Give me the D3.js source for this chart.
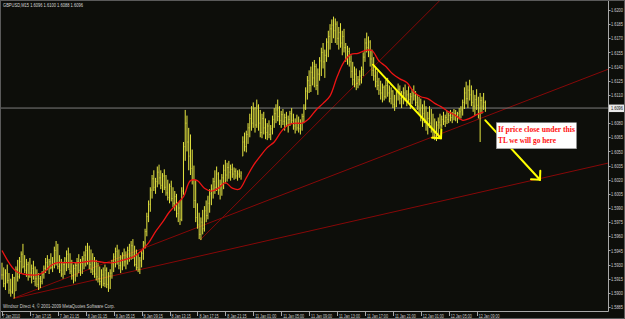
<!DOCTYPE html>
<html><head><meta charset="utf-8">
<script src="https://cdn.jsdelivr.net/npm/d3@7"></script>
<style>html,body{margin:0;padding:0;background:#0d0e0a;overflow:hidden}</style>
</head><body>
<script>
// ---------------- data ----------------
const symbolTitle = "GBPUSD,M15  1.6096 1.6100 1.6088 1.6096";
const copyrightText = "Windsor Direct 4, \u00A9 2001-2009 MetaQuotes Software Corp.";

const barHigh = [
1.5932,1.5927,1.5925,1.5930,1.5921,1.5915,1.5920,1.5917,1.5928,1.5935,
1.5938,1.5944,1.5952,1.5940,1.5936,1.5933,1.5937,1.5930,1.5934,1.5928,
1.5925,1.5921,1.5918,1.5923,1.5929,1.5937,1.5940,1.5936,1.5942,1.5938,
1.5949,1.5955,1.5952,1.5940,1.5936,1.5933,1.5938,1.5945,1.5948,1.5942,
1.5935,1.5930,1.5932,1.5937,1.5941,1.5936,1.5939,1.5944,1.5950,1.5953,
1.5950,1.5946,1.5942,1.5938,1.5935,1.5932,1.5928,1.5925,1.5927,1.5930,
1.5927,1.5922,1.5925,1.5935,1.5942,1.5948,1.5951,1.5946,1.5940,1.5943,
1.5947,1.5944,1.5949,1.5952,1.5955,1.5957,1.5950,1.5946,1.5941,1.5938,
1.5945,1.5955,1.5968,1.5985,1.5998,1.6012,1.6025,1.6030,1.6022,1.6034,
1.6036,1.6030,1.6027,1.6031,1.6025,1.6020,1.6016,1.6019,1.6012,1.6008,
1.6005,1.5996,1.5998,1.6012,1.6060,1.6094,1.6088,1.6075,1.6068,1.6052,
1.6035,1.6020,1.5995,1.5985,1.5980,1.5988,1.5992,1.5998,1.6003,1.6010,
1.6015,1.6022,1.6030,1.6034,1.6028,1.6020,1.6026,1.6036,1.6041,1.6038,
1.6040,1.6036,1.6037,1.6033,1.6032,1.6030,1.6031,1.6029,1.6066,1.6070,
1.6072,1.6080,1.6090,1.6098,1.6102,1.6097,1.6105,1.6100,1.6094,1.6090,
1.6092,1.6085,1.6080,1.6083,1.6078,1.6088,1.6096,1.6100,1.6105,1.6098,
1.6093,1.6095,1.6090,1.6092,1.6088,1.6093,1.6096,1.6090,1.6085,1.6089,
1.6087,1.6084,1.6090,1.6100,1.6118,1.6130,1.6136,1.6140,1.6145,1.6147,
1.6143,1.6138,1.6150,1.6160,1.6165,1.6158,1.6170,1.6178,1.6185,1.6190,
1.6193,1.6191,1.6188,1.6182,1.6186,1.6178,1.6180,1.6165,1.6162,1.6160,
1.6152,1.6145,1.6140,1.6138,1.6130,1.6136,1.6140,1.6155,1.6170,1.6176,
1.6172,1.6168,1.6158,1.6150,1.6140,1.6135,1.6128,1.6125,1.6122,1.6120,
1.6126,1.6128,1.6120,1.6118,1.6115,1.6110,1.6116,1.6122,1.6120,1.6114,
1.6118,1.6121,1.6115,1.6119,1.6112,1.6116,1.6120,1.6114,1.6110,1.6108,
1.6106,1.6100,1.6104,1.6098,1.6092,1.6098,1.6095,1.6090,1.6085,1.6082,
1.6086,1.6090,1.6088,1.6092,1.6089,1.6093,1.6091,1.6094,1.6092,1.6095,
1.6094,1.6092,1.6096,1.6098,1.6105,1.6118,1.6124,1.6120,1.6126,1.6120,
1.6115,1.6110,1.6116,1.6108,1.6112,1.6108,1.6112,1.6104];

const barLow = [
1.5914,1.5906,1.5903,1.5910,1.5899,1.5896,1.5899,1.5894,1.5902,1.5912,
1.5915,1.5920,1.5926,1.5921,1.5917,1.5913,1.5916,1.5910,1.5914,1.5907,
1.5906,1.5903,1.5905,1.5909,1.5915,1.5921,1.5924,1.5920,1.5925,1.5922,
1.5926,1.5929,1.5925,1.5921,1.5917,1.5915,1.5919,1.5923,1.5926,1.5920,
1.5914,1.5910,1.5912,1.5917,1.5921,1.5918,1.5920,1.5925,1.5928,1.5930,
1.5925,1.5921,1.5919,1.5916,1.5913,1.5911,1.5908,1.5905,1.5907,1.5906,
1.5905,1.5901,1.5904,1.5915,1.5922,1.5927,1.5930,1.5925,1.5921,1.5924,
1.5928,1.5925,1.5930,1.5933,1.5935,1.5936,1.5928,1.5924,1.5922,1.5920,
1.5927,1.5935,1.5947,1.5960,1.5975,1.5986,1.6000,1.6008,1.6005,1.6012,
1.6015,1.6010,1.6006,1.6009,1.6003,1.5998,1.5995,1.5997,1.5991,1.5987,
1.5980,1.5975,1.5972,1.5976,1.6004,1.6040,1.6050,1.6030,1.6025,1.6015,
1.5990,1.5975,1.5968,1.5957,1.5956,1.5962,1.5965,1.5975,1.5978,1.5985,
1.5993,1.6000,1.6005,1.6008,1.6004,1.5999,1.6003,1.6010,1.6016,1.6018,
1.6021,1.6019,1.6022,1.6020,1.6021,1.6019,1.6022,1.6020,1.6045,1.6050,
1.6049,1.6058,1.6065,1.6072,1.6075,1.6070,1.6075,1.6072,1.6065,1.6064,
1.6068,1.6063,1.6062,1.6064,1.6062,1.6068,1.6075,1.6080,1.6082,1.6078,
1.6075,1.6078,1.6072,1.6076,1.6070,1.6077,1.6079,1.6073,1.6069,1.6072,
1.6070,1.6068,1.6072,1.6080,1.6094,1.6105,1.6112,1.6113,1.6120,1.6118,
1.6115,1.6110,1.6125,1.6130,1.6138,1.6128,1.6145,1.6150,1.6158,1.6165,
1.6170,1.6165,1.6163,1.6158,1.6160,1.6152,1.6155,1.6145,1.6142,1.6140,
1.6128,1.6120,1.6118,1.6115,1.6117,1.6120,1.6122,1.6130,1.6145,1.6155,
1.6150,1.6140,1.6130,1.6125,1.6118,1.6115,1.6110,1.6105,1.6102,1.6104,
1.6106,1.6108,1.6102,1.6100,1.6096,1.6093,1.6097,1.6104,1.6100,1.6096,
1.6100,1.6103,1.6098,1.6102,1.6095,1.6100,1.6104,1.6098,1.6094,1.6090,
1.6082,1.6076,1.6080,1.6072,1.6068,1.6075,1.6070,1.6065,1.6062,1.6061,
1.6064,1.6074,1.6075,1.6078,1.6076,1.6079,1.6080,1.6082,1.6080,1.6083,
1.6082,1.6080,1.6084,1.6085,1.6088,1.6095,1.6100,1.6096,1.6104,1.6098,
1.6092,1.6088,1.6094,1.6085,1.6060,1.6090,1.6094,1.6092];

const barClose = [
1.5919,1.5910,1.5921,1.5913,1.5903,1.5901,1.5916,1.5899,1.5925,1.5917,
1.5933,1.5941,1.5928,1.5924,1.5930,1.5918,1.5921,1.5926,1.5912,1.5915,
1.5909,1.5915,1.5912,1.5920,1.5926,1.5932,1.5928,1.5933,1.5927,1.5930,
1.5945,1.5931,1.5928,1.5924,1.5920,1.5930,1.5936,1.5941,1.5925,1.5923,
1.5918,1.5926,1.5929,1.5933,1.5924,1.5931,1.5936,1.5940,1.5945,1.5934,
1.5930,1.5925,1.5923,1.5920,1.5917,1.5915,1.5912,1.5919,1.5910,1.5924,
1.5909,1.5918,1.5921,1.5931,1.5938,1.5944,1.5933,1.5929,1.5937,1.5940,
1.5933,1.5939,1.5945,1.5940,1.5950,1.5940,1.5930,1.5927,1.5925,1.5934,
1.5942,1.5953,1.5965,1.5981,1.5994,1.6009,1.6021,1.6012,1.6018,1.6028,
1.6022,1.6014,1.6024,1.6012,1.6006,1.6001,1.6013,1.6000,1.5995,1.6002,
1.5984,1.5990,1.5978,1.6008,1.6055,1.6080,1.6060,1.6045,1.6032,1.6020,
1.5998,1.5980,1.5972,1.5962,1.5975,1.5968,1.5987,1.5982,1.5995,1.6005,
1.6010,1.6018,1.6012,1.6026,1.6009,1.6015,1.6022,1.6030,1.6025,1.6033,
1.6028,1.6031,1.6026,1.6029,1.6024,1.6026,1.6024,1.6027,1.6060,1.6055,
1.6068,1.6075,1.6085,1.6080,1.6095,1.6078,1.6098,1.6080,1.6070,1.6085,
1.6075,1.6070,1.6077,1.6068,1.6074,1.6084,1.6090,1.6094,1.6087,1.6083,
1.6089,1.6082,1.6086,1.6080,1.6084,1.6090,1.6083,1.6077,1.6081,1.6075,
1.6074,1.6080,1.6087,1.6096,1.6114,1.6125,1.6120,1.6134,1.6128,1.6140,
1.6120,1.6132,1.6146,1.6155,1.6145,1.6152,1.6166,1.6172,1.6180,1.6184,
1.6178,1.6185,1.6170,1.6176,1.6165,1.6172,1.6160,1.6150,1.6156,1.6145,
1.6135,1.6126,1.6132,1.6122,1.6126,1.6130,1.6137,1.6150,1.6165,1.6160,
1.6166,1.6148,1.6136,1.6130,1.6124,1.6120,1.6115,1.6112,1.6118,1.6108,
1.6120,1.6112,1.6106,1.6114,1.6100,1.6098,1.6112,1.6116,1.6106,1.6108,
1.6112,1.6106,1.6110,1.6105,1.6108,1.6113,1.6109,1.6102,1.6098,1.6094,
1.6086,1.6090,1.6084,1.6078,1.6085,1.6080,1.6074,1.6070,1.6066,1.6078,
1.6081,1.6078,1.6084,1.6082,1.6086,1.6084,1.6088,1.6086,1.6089,1.6090,
1.6088,1.6090,1.6092,1.6094,1.6102,1.6112,1.6106,1.6115,1.6110,1.6102,
1.6098,1.6105,1.6099,1.6090,1.6104,1.6098,1.6102,1.6096];

// moving average, one reading every maStep bars
const maStep = 4;
const maValues = [
1.5945,1.5932,1.5923,1.5920,1.5919,1.5919,1.5922,1.5929,1.5932,1.5932,
1.5932,1.5932,1.5933,1.5934,1.5933,1.5932,1.5932,1.5934,1.5936,1.5939,
1.5945,1.5953,1.5965,1.5975,1.5986,1.5994,1.6002,1.6019,1.6019,1.6011,
1.6008,1.6011,1.6017,1.6011,1.6010,1.6022,1.6035,1.6045,1.6054,1.6060,
1.6071,1.6078,1.6080,1.6080,1.6085,1.6094,1.6101,1.6109,1.6129,1.6145,
1.6153,1.6154,1.6157,1.6157,1.6146,1.6140,1.6132,1.6127,1.6123,1.6113,
1.6108,1.6106,1.6101,1.6097,1.6092,1.6088,1.6083,1.6085,1.6089,1.6092];

const priceTicks = [1.6200,1.6185,1.6170,1.6155,1.6140,1.6125,1.6110,1.6095,1.6080,1.6065,1.6050,
                    1.6035,1.6020,1.6005,1.5990,1.5975,1.5960,1.5945,1.5930,1.5915,1.5900,1.5885];
const timeTickBars = [0,16,32,48,64,80,96,112,128,144,160,176,192,208,224,240,256,272];
const timeTickLabels = ["7 Jan 2010","7 Jan 17:15","7 Jan 21:15","8 Jan 01:15","8 Jan 05:15","8 Jan 09:15",
  "8 Jan 13:15","8 Jan 17:15","8 Jan 21:15","11 Jan 01:00","11 Jan 05:00","11 Jan 09:00",
  "11 Jan 13:00","11 Jan 17:00","11 Jan 21:00","12 Jan 01:00","12 Jan 05:00","12 Jan 09:00"];
const currentPrice = 1.6096;

// drawn objects: [barIndex, price] anchors
const trendLineA = [[6.3, 1.5894], [277, 1.6087]];
const trendLineB = [[6.3, 1.5894], [277, 1.6008]];
const trendLineC = [[113.5, 1.5956], [239.5, 1.6189]];
const arrowDown1 = [[212.6, 1.6142], [251.6, 1.6064]];
const arrowDown2 = [[277, 1.6083], [308.3, 1.6020]];
const noteAnchor = [276.2, 1.6090];
const noteLines = ["If price close under this", "TL we will go here"];

// ---------------- layout ----------------
const W = 625, H = 319, plotR = 608, plotB = 311;
const x = d3.scaleLinear().domain([0, 277]).range([2, 2 + 1.745 * 277]);
const y = d3.scaleLinear().domain([1.5885, 1.6200]).range([307, 10]);
const font = "'Liberation Sans', Arial, sans-serif";

const svg = d3.select("body").append("svg").attr("width", W).attr("height", H)
  .style("display", "block");
svg.append("rect").attr("width", W).attr("height", H).attr("fill", "#0d0e0a");

svg.append("defs").append("clipPath").attr("id", "plot")
  .append("rect").attr("x", 0).attr("y", 0).attr("width", plotR).attr("height", plotB);

const plot = svg.append("g").attr("clip-path", "url(#plot)");

// small text squeezed horizontally to a target width (real glyphs, scaled group)
function smallText(parent, str, tx, ty, width, size, fill) {
  const g = parent.append("g");
  const t = g.append("text").attr("x", 0).attr("y", 0)
    .attr("font-family", font).attr("font-size", size).attr("fill", fill).text(str);
  const natural = t.node().getComputedTextLength() || width;
  g.attr("transform", `translate(${tx},${ty}) scale(${width / natural},1)`);
  return t;
}

// trend lines (extended as rays)
function ray(pts) {
  const x1 = x(pts[0][0]), y1 = y(pts[0][1]), x2 = x(pts[1][0]), y2 = y(pts[1][1]);
  const dx = x2 - x1, dy = y2 - y1, L = Math.hypot(dx, dy);
  return [x1, y1, x1 + dx / L * 1200, y1 + dy / L * 1200];
}
plot.selectAll("line.tl").data([trendLineA, trendLineB, trendLineC]).join("line")
  .attr("class", "tl")
  .each(function (d) {
    const r = ray(d);
    d3.select(this).attr("x1", r[0]).attr("y1", r[1]).attr("x2", r[2]).attr("y2", r[3]);
  })
  .attr("stroke", "#860808").attr("stroke-width", 1);

// current price line
plot.append("line").attr("x1", 0).attr("x2", plotR)
  .attr("y1", y(currentPrice)).attr("y2", y(currentPrice))
  .attr("stroke", "#7d7d7d").attr("stroke-width", 1);

// OHLC bars
const bars = d3.range(barHigh.length).map(i => ({
  i, h: barHigh[i], l: barLow[i], c: barClose[i],
  o: i === 0 ? barClose[0] : Math.min(barHigh[i], Math.max(barLow[i], barClose[i - 1]))
}));
const bg = plot.append("g").attr("stroke", "#e6e640").attr("stroke-width", 1);
bg.selectAll("line.hl").data(bars).join("line").attr("class", "hl")
  .attr("x1", d => x(d.i)).attr("x2", d => x(d.i))
  .attr("y1", d => y(d.h)).attr("y2", d => y(d.l));
bg.selectAll("line.op").data(bars).join("line").attr("class", "op")
  .attr("x1", d => x(d.i) - 0.6).attr("x2", d => x(d.i))
  .attr("y1", d => y(d.o)).attr("y2", d => y(d.o)).attr("stroke-opacity", 0.7);
bg.selectAll("line.cl").data(bars).join("line").attr("class", "cl")
  .attr("x1", d => x(d.i)).attr("x2", d => x(d.i) + 0.6)
  .attr("y1", d => y(d.c)).attr("y2", d => y(d.c)).attr("stroke-opacity", 0.7);

// moving average
plot.append("path")
  .attr("d", d3.line().x((d, k) => x(k * maStep)).y(d => y(d)).curve(d3.curveCatmullRom.alpha(0.5))(maValues))
  .attr("fill", "none").attr("stroke", "#ec1414").attr("stroke-width", 1.3);

// arrows
function drawArrow(pts) {
  const x1 = x(pts[0][0]), y1 = y(pts[0][1]), x2 = x(pts[1][0]), y2 = y(pts[1][1]);
  const a = Math.atan2(y1 - y2, x1 - x2), len = 9, spread = 0.78;
  const g = plot.append("g").attr("stroke", "#ffff00").attr("stroke-width", 2)
    .attr("stroke-linecap", "round");
  g.append("line").attr("x1", x1).attr("y1", y1).attr("x2", x2).attr("y2", y2);
  [a - spread, a + spread].forEach(t => {
    g.append("line").attr("x1", x2).attr("y1", y2)
      .attr("x2", x2 + Math.cos(t) * len).attr("y2", y2 + Math.sin(t) * len);
  });
}
drawArrow(arrowDown1);
drawArrow(arrowDown2);

// note box
const nx = x(noteAnchor[0]) + 12.5, ny = y(noteAnchor[1]) + 9;
plot.append("rect").attr("x", nx).attr("y", ny).attr("width", 80).attr("height", 26)
  .attr("fill", "#ffffff").attr("stroke", "#9a9a9a").attr("stroke-width", 0.6);
const noteLens = [77, 58];
plot.selectAll("text.note").data(noteLines).join("text").attr("class", "note")
  .attr("x", nx + 1.5).attr("y", (d, k) => ny + 9.5 + k * 11)
  .attr("textLength", (d, k) => noteLens[k]).attr("lengthAdjust", "spacingAndGlyphs")
  .attr("font-family", "'Liberation Serif', 'Times New Roman', serif")
  .attr("font-weight", "bold").attr("font-size", 9).attr("fill", "#ff1010")
  .text(d => d);

// axes lines
svg.append("line").attr("x1", plotR + 0.5).attr("x2", plotR + 0.5).attr("y1", 0).attr("y2", plotB + 0.5)
  .attr("stroke", "#a8a8a8");
svg.append("line").attr("x1", 0).attr("x2", plotR + 0.5).attr("y1", plotB + 0.5).attr("y2", plotB + 0.5)
  .attr("stroke", "#a8a8a8");

// price axis
const pg = svg.append("g");
pg.selectAll("line").data(priceTicks).join("line")
  .attr("x1", plotR + 0.5).attr("x2", plotR + 2.5)
  .attr("y1", d => Math.round(y(d)) + 0.5).attr("y2", d => Math.round(y(d)) + 0.5)
  .attr("stroke", "#a8a8a8");
priceTicks.forEach(p => {
  if (Math.abs(y(p) - y(currentPrice)) > 5) smallText(pg, p.toFixed(4), 611, y(p) + 2.2, 12, 6, "#cfcfcf");
});
// current price badge
svg.append("rect").attr("x", 609).attr("y", y(currentPrice) - 3.5).attr("width", 15.5).attr("height", 7.5)
  .attr("fill", "#e8e8e8");
smallText(svg, currentPrice.toFixed(4), 611, y(currentPrice) + 2.3, 12, 6, "#111");

// time axis
const tg = svg.append("g");
tg.selectAll("line").data(timeTickBars).join("line")
  .attr("x1", d => Math.round(x(d)) + 0.5).attr("x2", d => Math.round(x(d)) + 0.5)
  .attr("y1", plotB + 1).attr("y2", plotB + 5).attr("stroke", "#a8a8a8");
timeTickBars.forEach((b, k) => {
  smallText(tg, timeTickLabels[k], x(b) + (b === 0 ? 0.5 : 2), 317.5,
    timeTickLabels[k].length * 1.75, 5.5, "#cfcfcf");
});

// title + copyright
smallText(svg, symbolTitle, 3, 7, 80, 6, "#d8d8d8");
smallText(svg, copyrightText, 3, 308, 112, 6, "#cfcfcf");

// outer frame
svg.append("rect").attr("x", 0.5).attr("y", 0.5).attr("width", W - 1).attr("height", H - 1)
  .attr("fill", "none").attr("stroke", "#5a5a5a");
</script>
</body></html>
